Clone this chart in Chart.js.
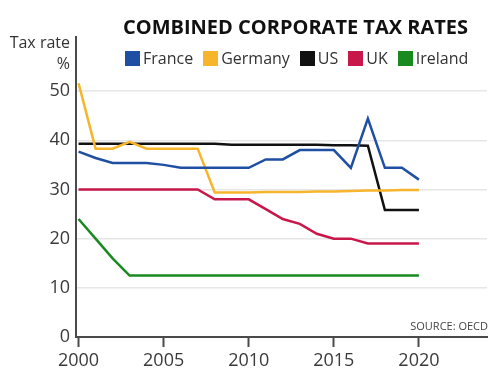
<!DOCTYPE html>
<html>
<head>
<meta charset="utf-8">
<script src="https://cdn.jsdelivr.net/npm/chart.js@4.4.1/dist/chart.umd.min.js"></script>
<style>
  html, body { margin: 0; padding: 0; background: #fff; }
  #wrap { position: relative; width: 500px; height: 378px; font-family: 'Open Sans', sans-serif; }
  #wrap canvas { position: absolute; left: 0; top: 0; }
  .txt { position: absolute; line-height: 1; white-space: nowrap; color: #333; }
  #title { left: 123px; top: 17px; font-size: 20px; font-weight: 700; color: #111; }
  #legend { position: absolute; left: 125px; top: 50px; display: flex; align-items: center; font-size: 16px; line-height: 16px; color: #333; }
  #legend .item { display: flex; align-items: center; margin-right: 10px; }
  #legend .box { width: 15px; height: 15px; margin-right: 3px; }
  #ytitle { right: 430px; top: 34px; font-size: 16px; text-align: right; }
  #ypct { right: 430px; top: 55px; font-size: 16px; }
  #source { right: 12px; top: 320px; font-size: 11px; color: #444; }
</style>
</head>
<body>
<div id="wrap">
  <canvas id="taxChart"></canvas>
  <div class="txt" id="title">COMBINED CORPORATE TAX RATES</div>
  <div id="legend"></div>
  <div class="txt" id="ytitle">Tax rate</div>
  <div class="txt" id="ypct">%</div>
  <div class="txt" id="source">SOURCE: OECD</div>
</div>
<script>
// Năm và số liệu thuế suất (%)
const years = [2000, 2001, 2002, 2003, 2004, 2005, 2006, 2007, 2008, 2009, 2010,
               2011, 2012, 2013, 2014, 2015, 2016, 2017, 2018, 2019, 2020];
const france  = [37.7, 36.4, 35.4, 35.4, 35.4, 35.0, 34.4, 34.4, 34.4, 34.4, 34.4,
                 36.1, 36.1, 38.0, 38.0, 38.0, 34.4, 44.4, 34.4, 34.4, 32.0];
const germany = [51.6, 38.3, 38.3, 39.7, 38.3, 38.3, 38.3, 38.3, 29.4, 29.4, 29.4,
                 29.5, 29.5, 29.5, 29.6, 29.6, 29.7, 29.8, 29.8, 29.9, 29.9];
const us      = [39.3, 39.3, 39.3, 39.3, 39.3, 39.3, 39.3, 39.3, 39.3, 39.1, 39.1,
                 39.1, 39.1, 39.1, 39.1, 39.0, 39.0, 38.9, 25.8, 25.8, 25.8];
const uk      = [30, 30, 30, 30, 30, 30, 30, 30, 28, 28, 28,
                 26, 24, 23, 21, 20, 20, 19, 19, 19, 19];
const ireland = [24, 20, 16, 12.5, 12.5, 12.5, 12.5, 12.5, 12.5, 12.5, 12.5,
                 12.5, 12.5, 12.5, 12.5, 12.5, 12.5, 12.5, 12.5, 12.5, 12.5];
const seriesNames  = ['France', 'Germany', 'US', 'UK', 'Ireland'];
const seriesColors = ['#1f4fa3', '#f7b52c', '#111111', '#c8174a', '#198a20'];
const xTicks = [2000, 2005, 2010, 2015, 2020];
const yTicks = [0, 10, 20, 30, 40, 50];

const seriesData = [france, germany, us, uk, ireland];

// Chú thích dạng HTML
const legendEl = document.getElementById('legend');
seriesNames.forEach((name, i) => {
    const item = document.createElement('div');
    item.className = 'item';
    item.innerHTML = '<span class="box" style="background:' + seriesColors[i] + '"></span>' + name;
    legendEl.appendChild(item);
});

Chart.defaults.font.family = "'Open Sans', sans-serif";

const ctx = document.getElementById('taxChart').getContext('2d');
new Chart(ctx, {
    type: 'line',
    data: {
        datasets: seriesNames.map((name, i) => ({
            label: name,
            data: years.map((yr, j) => ({ x: yr, y: seriesData[i][j] })),
            borderColor: seriesColors[i],
            backgroundColor: seriesColors[i],
            borderWidth: 2.5,
            pointRadius: 0,
            tension: 0
        }))
    },
    options: {
        responsive: true,
        maintainAspectRatio: false,
        animation: false,
        layout: { padding: { top: 37, right: 13, bottom: 0, left: 0 } },
        plugins: {
            legend: { display: false },
            title: { display: false },
            tooltip: { enabled: false }
        },
        scales: {
            x: {
                type: 'linear',
                min: 1999.85,
                max: 2024,
                afterFit: (scale) => { scale.height = 41; },
                afterBuildTicks: (scale) => { scale.ticks = xTicks.map(v => ({ value: v })); },
                ticks: {
                    includeBounds: false,
                    padding: 3,
                    color: '#3a3a3a',
                    font: { size: 18 },
                    maxRotation: 0,
                    callback: (v) => String(v)
                },
                grid: {
                    drawOnChartArea: false,
                    drawTicks: true,
                    tickLength: 10,
                    tickColor: '#4a4a4a',
                    tickWidth: 2
                },
                border: { display: true, color: '#4a4a4a', width: 2 }
            },
            y: {
                min: 0,
                max: 61,
                afterFit: (scale) => { scale.width = 76; },
                afterBuildTicks: (scale) => { scale.ticks = yTicks.map(v => ({ value: v })); },
                ticks: {
                    includeBounds: false,
                    padding: 6,
                    color: '#3a3a3a',
                    font: { size: 18 }
                },
                grid: {
                    drawTicks: false,
                    color: (c) => (c.tick && c.tick.value === 0) ? 'rgba(0,0,0,0)' : '#e6e6e6',
                    lineWidth: 1.5
                },
                border: { display: true, color: '#4a4a4a', width: 2 }
            }
        }
    }
});
</script>
</body>
</html>
